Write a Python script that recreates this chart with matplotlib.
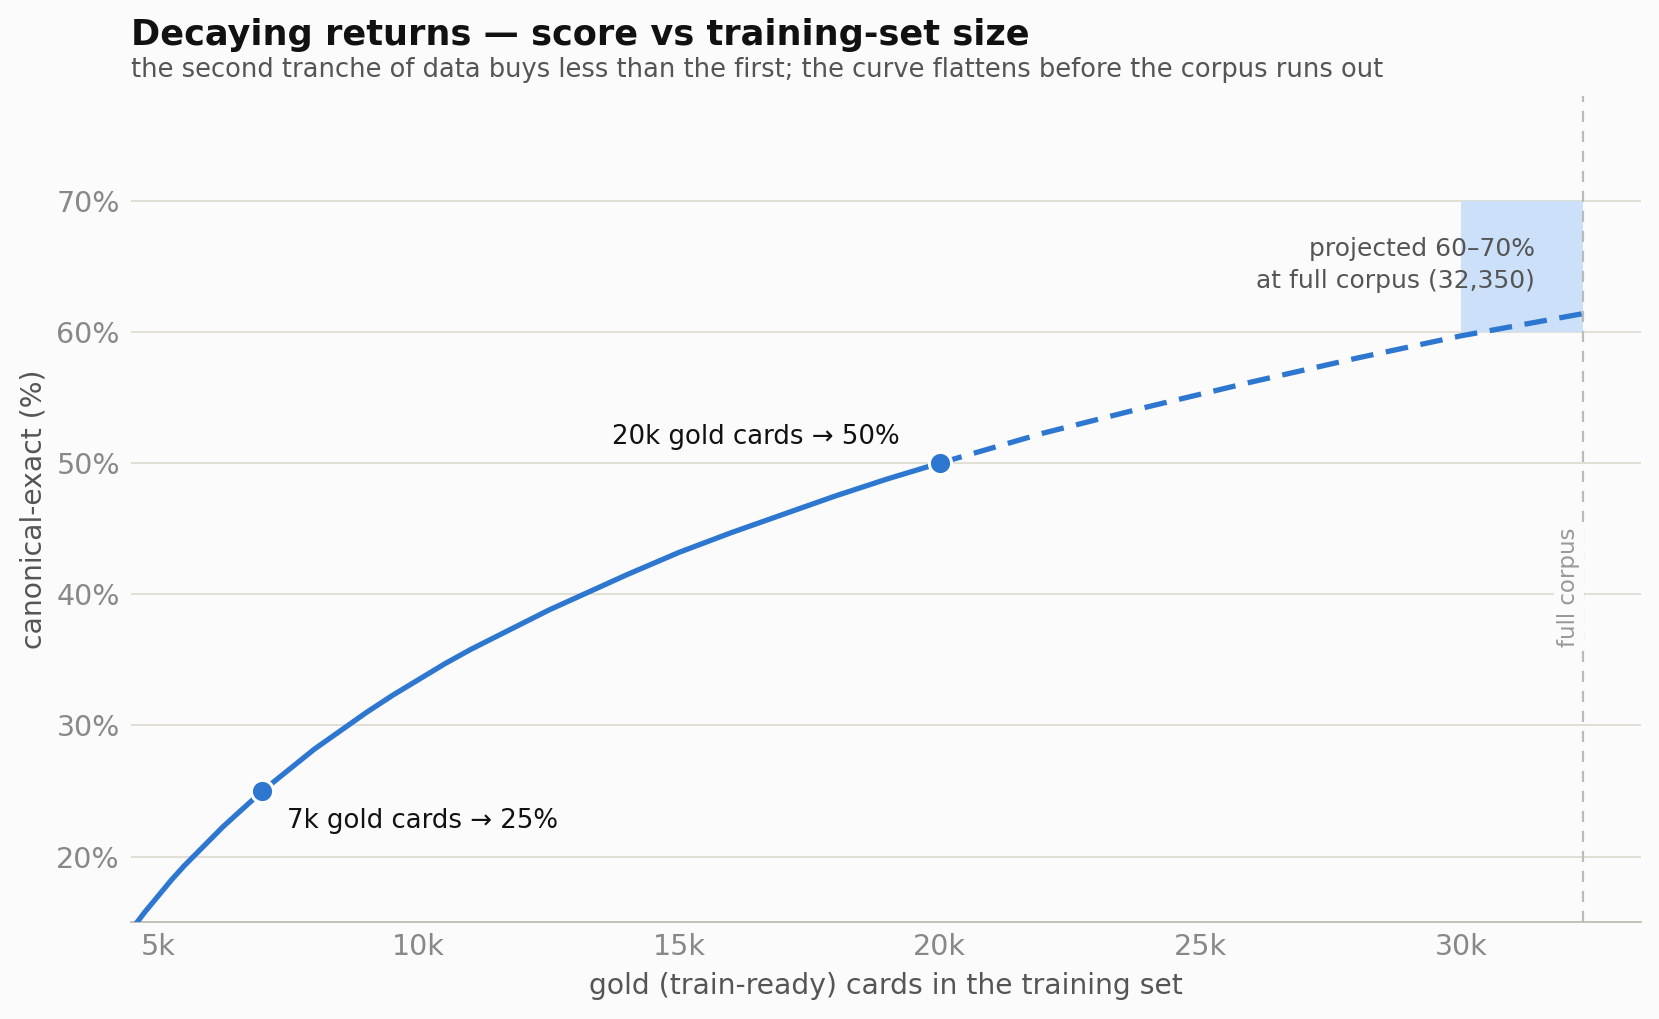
import matplotlib
matplotlib.use("Agg")
import matplotlib.pyplot as plt
from matplotlib.ticker import FuncFormatter

# data
x_observed = [4500, 4750, 5000, 5250, 5500, 5750, 6000, 6250, 6500, 6750, 7000,
              7500, 8000, 8500, 9000, 9500, 10000, 10500, 11000, 11500, 12000,
              12500, 13000, 13500, 14000, 15000, 16000, 17000, 18000, 19000, 20000]
y_observed = [14.5, 15.8, 17.0, 18.2, 19.3, 20.3, 21.3, 22.3, 23.2, 24.1, 25.0,
              26.6, 28.2, 29.6, 31.0, 32.3, 33.5, 34.7, 35.8, 36.8, 37.8,
              38.8, 39.7, 40.6, 41.5, 43.2, 44.7, 46.1, 47.5, 48.8, 50.0]
x_projected = [20000, 22000, 24000, 26000, 28000, 30000, 32350]
y_projected = [50.0, 52.3, 54.3, 56.2, 58.0, 59.7, 61.4]
milestone_x = [7000, 20000]
milestone_y = [25, 50]
full_corpus = 32350
band_x = [30000, 32350]
band_y = [60, 70]
yticks = [20, 30, 40, 50, 60, 70]
xticks = [5000, 10000, 15000, 20000, 25000, 30000]

BLUE = "#2e77d0"
BG = "#fbfbfb"

fig = plt.figure(figsize=(16.59, 10.19), dpi=100, facecolor=BG)
ax = fig.add_axes([0.079, 0.095, 0.91, 0.811], facecolor=BG)

ax.set_xlim(4480, 33450)
ax.set_ylim(15, 78)

for t in yticks:
    ax.axhline(t, color="#ddddd2", lw=1.3, zorder=0)

ax.fill_between(band_x, band_y[0], band_y[1], color="#cce1f9", lw=0, zorder=1)
ax.axvline(full_corpus, color="#bbbbbb", lw=1.6, ls=(0, (5, 4)), zorder=2)

ax.plot(x_observed, y_observed, color=BLUE, lw=3.8, solid_capstyle="round",
        solid_joinstyle="round", zorder=3)
ax.plot(x_projected, y_projected, color=BLUE, lw=3.8, ls=(0, (4.3, 2.4)), zorder=3)
ax.plot(milestone_x, milestone_y, "o", ms=16, color=BLUE, mec="white", mew=2.2, zorder=4)

ax.text(7480, 22.7, "7k gold cards \u2192 25%", fontsize=18.7, color="#111111",
        ha="left", va="center")
ax.text(19230, 52.0, "20k gold cards \u2192 50%", fontsize=18.7, color="#111111",
        ha="right", va="center")
ax.text(31420, 65.1, "projected 60\u201370%\nat full corpus (32,350)", fontsize=18,
        color="#555555", ha="right", va="center", multialignment="right",
        linespacing=1.38)
ax.text(32070, 36.0, "full corpus", rotation=90, fontsize=16.5, color="#999999",
        ha="center", va="bottom",
        bbox=dict(boxstyle="square,pad=0.15", fc=BG, ec="none"))

ax.set_xticks(xticks)
ax.xaxis.set_major_formatter(FuncFormatter(lambda v, p: f"{int(v/1000)}k"))
ax.set_yticks(yticks)
ax.yaxis.set_major_formatter(FuncFormatter(lambda v, p: f"{int(v)}%"))
ax.tick_params(axis="both", length=0, labelsize=20.5, labelcolor="#888888")
ax.tick_params(axis="x", pad=8)
ax.tick_params(axis="y", pad=8)

for s in ["top", "right", "left"]:
    ax.spines[s].set_visible(False)
ax.spines["bottom"].set_color("#bdbdb2")
ax.spines["bottom"].set_linewidth(1.3)

ax.set_xlabel("gold (train-ready) cards in the training set", fontsize=20.3,
              color="#555555", labelpad=8)
ax.set_ylabel("canonical-exact (%)", fontsize=20.3, color="#555555", labelpad=6)

fig.text(0.079, 0.9657, "Decaying returns \u2014 score vs training-set size",
         fontsize=25.3, fontweight="bold", color="#111111", ha="left", va="center")
fig.text(0.079, 0.9315, "the second tranche of data buys less than the first; "
         "the curve flattens before the corpus runs out",
         fontsize=18.5, color="#555555", ha="left", va="center")

fig.savefig("out.png", dpi=100, facecolor=BG)
